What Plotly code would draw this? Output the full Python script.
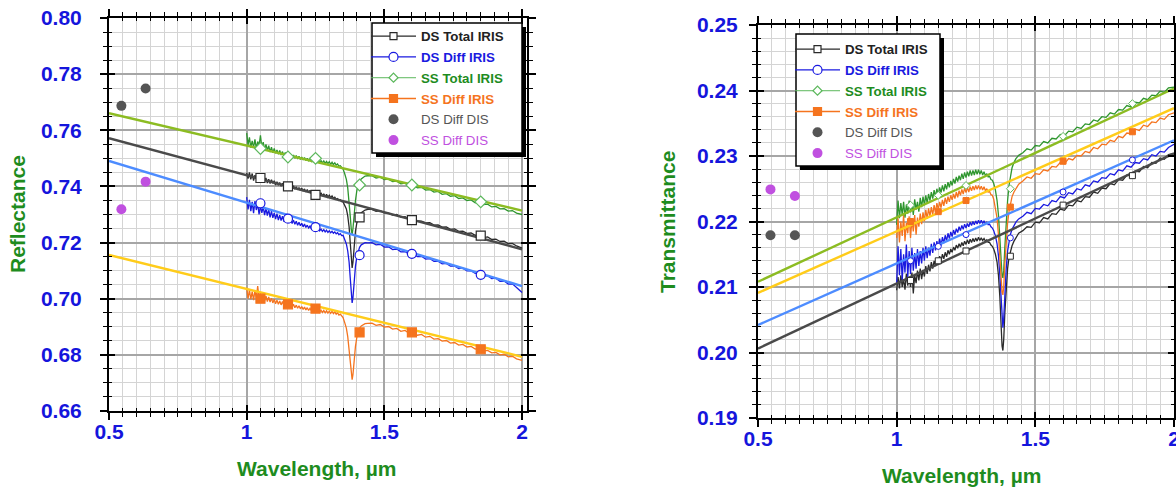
import plotly.graph_objects as go

W, H = 1176, 487

# ---------------- data ----------------
wl = [1.000, 1.005, 1.010, 1.015, 1.020, 1.025, 1.030, 1.035, 1.040, 1.045,
      1.050, 1.055, 1.060, 1.065, 1.070, 1.075, 1.080, 1.085, 1.090, 1.095,
      1.100, 1.105, 1.110, 1.115, 1.120, 1.125, 1.130, 1.135, 1.140, 1.145,
      1.150, 1.155, 1.160, 1.165, 1.170, 1.175, 1.180, 1.185, 1.190, 1.195,
      1.200, 1.205, 1.210, 1.215, 1.220, 1.225, 1.230, 1.235, 1.240, 1.245,
      1.250, 1.255, 1.260, 1.265, 1.270, 1.275, 1.280, 1.285, 1.290, 1.295,
      1.300, 1.305, 1.310, 1.315, 1.320, 1.325, 1.330, 1.335, 1.340, 1.345,
      1.350,
      1.356, 1.362, 1.367, 1.372, 1.376, 1.380, 1.383, 1.386, 1.390, 1.395,
      1.400, 1.405, 1.410, 1.416, 1.423, 1.430, 1.440,
      1.455, 1.470, 1.485, 1.500, 1.515, 1.530, 1.545, 1.560, 1.575, 1.590,
      1.605, 1.620, 1.635, 1.650, 1.665, 1.680, 1.695, 1.710, 1.725, 1.740,
      1.755, 1.770, 1.785, 1.800, 1.815, 1.830, 1.845, 1.860, 1.875, 1.890,
      1.905, 1.920, 1.935, 1.950, 1.965, 1.980, 2.000]

# Reflectance spectra (IRIS)
refl_ds_total = [
    0.7448, 0.7428, 0.7450, 0.7425, 0.7446, 0.7421, 0.7440, 0.7428, 0.7443, 0.7418,
    0.7436, 0.7415, 0.7433, 0.7420, 0.7430, 0.7412, 0.7426, 0.7410, 0.7424, 0.7411,
    0.7420, 0.7405, 0.7417, 0.7404, 0.7414, 0.7401, 0.7411, 0.7400, 0.7408, 0.7398,
    0.7407, 0.7395, 0.7404, 0.7393, 0.7402, 0.7390, 0.7399, 0.7388, 0.7396, 0.7386,
    0.7394, 0.7383, 0.7391, 0.7380, 0.7389, 0.7378, 0.7386, 0.7376, 0.7384, 0.7373,
    0.7381, 0.7371, 0.7379, 0.7369, 0.7377, 0.7366, 0.7374, 0.7364, 0.7372, 0.7362,
    0.7369, 0.7360, 0.7366, 0.7358, 0.7362, 0.7354, 0.7357, 0.7350, 0.7352, 0.7346,
    0.7345,
    0.7335, 0.7320, 0.7295, 0.7255, 0.7200, 0.7140, 0.7110, 0.7130, 0.7190, 0.7240,
    0.7270, 0.7288, 0.7298, 0.7306, 0.7312, 0.7316, 0.7318,
    0.7318, 0.7311, 0.7314, 0.7306, 0.7305, 0.7298, 0.7300, 0.7291, 0.7292, 0.7284,
    0.7285, 0.7277, 0.7276, 0.7270, 0.7271, 0.7262, 0.7263, 0.7255, 0.7256, 0.7247,
    0.7249, 0.7240, 0.7241, 0.7233, 0.7234, 0.7226, 0.7227, 0.7218, 0.7220, 0.7211,
    0.7212, 0.7204, 0.7205, 0.7196, 0.7197, 0.7188, 0.7180]
refl_ds_diff = [
    0.7362, 0.7318, 0.7352, 0.7312, 0.7345, 0.7305, 0.7348, 0.7316, 0.7338, 0.7300,
    0.7332, 0.7306, 0.7328, 0.7298, 0.7322, 0.7296, 0.7318, 0.7290, 0.7312, 0.7288,
    0.7306, 0.7284, 0.7303, 0.7280, 0.7298, 0.7278, 0.7294, 0.7275, 0.7290, 0.7272,
    0.7287, 0.7270, 0.7283, 0.7268, 0.7280, 0.7265, 0.7276, 0.7262, 0.7272, 0.7260,
    0.7269, 0.7256, 0.7266, 0.7254, 0.7262, 0.7252, 0.7259, 0.7249, 0.7256, 0.7247,
    0.7253, 0.7244, 0.7251, 0.7242, 0.7248, 0.7240, 0.7246, 0.7238, 0.7244, 0.7236,
    0.7242, 0.7235, 0.7240, 0.7233, 0.7238, 0.7231, 0.7235, 0.7228, 0.7232, 0.7225,
    0.7226,
    0.7212, 0.7195, 0.7170, 0.7130, 0.7075, 0.7020, 0.6985, 0.7005, 0.7060, 0.7115,
    0.7150, 0.7170, 0.7183, 0.7192, 0.7197, 0.7200, 0.7199,
    0.7200, 0.7192, 0.7194, 0.7184, 0.7185, 0.7175, 0.7177, 0.7167, 0.7168, 0.7158,
    0.7160, 0.7150, 0.7151, 0.7141, 0.7143, 0.7133, 0.7134, 0.7124, 0.7126, 0.7116,
    0.7117, 0.7107, 0.7109, 0.7099, 0.7100, 0.7090, 0.7091, 0.7081, 0.7082, 0.7072,
    0.7073, 0.7062, 0.7063, 0.7052, 0.7053, 0.7040, 0.7022]
refl_ss_total = [
    0.7590, 0.7548, 0.7575, 0.7538, 0.7562, 0.7540, 0.7568, 0.7535, 0.7560, 0.7545,
    0.7582, 0.7540, 0.7558, 0.7530, 0.7550, 0.7528, 0.7545, 0.7522, 0.7540, 0.7520,
    0.7535, 0.7518, 0.7530, 0.7515, 0.7528, 0.7512, 0.7524, 0.7510, 0.7521, 0.7508,
    0.7518, 0.7505, 0.7515, 0.7503, 0.7512, 0.7500, 0.7510, 0.7498, 0.7507, 0.7496,
    0.7505, 0.7494, 0.7503, 0.7492, 0.7500, 0.7490, 0.7498, 0.7489, 0.7497, 0.7487,
    0.7495, 0.7486, 0.7494, 0.7485, 0.7492, 0.7484, 0.7491, 0.7482, 0.7489, 0.7481,
    0.7488, 0.7479, 0.7486, 0.7478, 0.7484, 0.7476, 0.7480, 0.7472, 0.7474, 0.7466,
    0.7462,
    0.7445, 0.7425, 0.7395, 0.7350, 0.7295, 0.7245, 0.7228, 0.7250, 0.7300, 0.7350,
    0.7385, 0.7405, 0.7418, 0.7427, 0.7433, 0.7437, 0.7438,
    0.7438, 0.7430, 0.7433, 0.7424, 0.7426, 0.7417, 0.7419, 0.7409, 0.7412, 0.7402,
    0.7404, 0.7395, 0.7397, 0.7387, 0.7389, 0.7380, 0.7382, 0.7372, 0.7374, 0.7365,
    0.7367, 0.7357, 0.7359, 0.7350, 0.7352, 0.7342, 0.7344, 0.7335, 0.7337, 0.7327,
    0.7329, 0.7320, 0.7321, 0.7312, 0.7314, 0.7305, 0.7300]
refl_ss_diff = [
    0.7040, 0.7000, 0.7032, 0.6998, 0.7025, 0.6995, 0.7030, 0.7002, 0.7045, 0.7000,
    0.7022, 0.6995, 0.7015, 0.6992, 0.7010, 0.6990, 0.7006, 0.6988, 0.7002, 0.6985,
    0.6998, 0.6982, 0.6995, 0.6980, 0.6992, 0.6978, 0.6990, 0.6976, 0.6987, 0.6975,
    0.6984, 0.6972, 0.6982, 0.6970, 0.6980, 0.6968, 0.6977, 0.6966, 0.6975, 0.6964,
    0.6972, 0.6962, 0.6970, 0.6960, 0.6968, 0.6958, 0.6966, 0.6957, 0.6964, 0.6955,
    0.6962, 0.6954, 0.6961, 0.6952, 0.6959, 0.6951, 0.6958, 0.6950, 0.6957, 0.6949,
    0.6956, 0.6948, 0.6955, 0.6947, 0.6953, 0.6945, 0.6950, 0.6942, 0.6945, 0.6937,
    0.6933,
    0.6915, 0.6895, 0.6865, 0.6820, 0.6770, 0.6728, 0.6712, 0.6730, 0.6780, 0.6830,
    0.6862, 0.6882, 0.6895, 0.6903, 0.6908, 0.6911, 0.6912,
    0.6913, 0.6905, 0.6908, 0.6899, 0.6901, 0.6892, 0.6894, 0.6884, 0.6887, 0.6877,
    0.6880, 0.6870, 0.6873, 0.6863, 0.6866, 0.6856, 0.6858, 0.6849, 0.6851, 0.6842,
    0.6844, 0.6835, 0.6837, 0.6828, 0.6830, 0.6821, 0.6823, 0.6814, 0.6816, 0.6807,
    0.6809, 0.6800, 0.6802, 0.6793, 0.6795, 0.6786, 0.6780]

# Transmittance spectra (IRIS)
tran_ds_total = [
    0.2095, 0.2115, 0.2098, 0.2118, 0.2100, 0.2112, 0.2096, 0.2120, 0.2102, 0.2115,
    0.2100, 0.2122, 0.2090, 0.2118, 0.2106, 0.2125, 0.2110, 0.2128, 0.2112, 0.2126,
    0.2116, 0.2132, 0.2120, 0.2134, 0.2124, 0.2138, 0.2128, 0.2140, 0.2132, 0.2144,
    0.2136, 0.2147, 0.2140, 0.2150, 0.2143, 0.2153, 0.2146, 0.2156, 0.2150, 0.2158,
    0.2153, 0.2161, 0.2156, 0.2164, 0.2159, 0.2166, 0.2161, 0.2168, 0.2163, 0.2170,
    0.2165, 0.2172, 0.2166, 0.2173, 0.2168, 0.2174, 0.2169, 0.2175, 0.2170, 0.2176,
    0.2171, 0.2175, 0.2171, 0.2174, 0.2170, 0.2172, 0.2168, 0.2168, 0.2164, 0.2162,
    0.2158,
    0.2150, 0.2138, 0.2118, 0.2085, 0.2045, 0.2010, 0.2003, 0.2020, 0.2060, 0.2100,
    0.2128, 0.2145, 0.2155, 0.2163, 0.2170, 0.2176, 0.2182,
    0.2186, 0.2192, 0.2191, 0.2199, 0.2198, 0.2206, 0.2204, 0.2212, 0.2211, 0.2219,
    0.2217, 0.2225, 0.2224, 0.2232, 0.2230, 0.2238, 0.2237, 0.2245, 0.2243, 0.2251,
    0.2250, 0.2258, 0.2256, 0.2264, 0.2263, 0.2271, 0.2269, 0.2277, 0.2276, 0.2284,
    0.2282, 0.2290, 0.2289, 0.2297, 0.2295, 0.2302, 0.2304]
tran_ds_diff = [
    0.2105, 0.2162, 0.2118, 0.2158, 0.2110, 0.2150, 0.2122, 0.2165, 0.2115, 0.2155,
    0.2120, 0.2160, 0.2125, 0.2152, 0.2128, 0.2158, 0.2132, 0.2155, 0.2136, 0.2160,
    0.2140, 0.2162, 0.2144, 0.2160, 0.2148, 0.2166, 0.2152, 0.2168, 0.2156, 0.2170,
    0.2160, 0.2174, 0.2163, 0.2176, 0.2167, 0.2179, 0.2170, 0.2182, 0.2174, 0.2184,
    0.2177, 0.2187, 0.2180, 0.2189, 0.2183, 0.2192, 0.2186, 0.2194, 0.2188, 0.2196,
    0.2190, 0.2197, 0.2192, 0.2199, 0.2194, 0.2200, 0.2195, 0.2201, 0.2196, 0.2202,
    0.2197, 0.2202, 0.2197, 0.2201, 0.2196, 0.2199, 0.2195, 0.2196, 0.2192, 0.2190,
    0.2186,
    0.2178, 0.2166, 0.2148, 0.2118, 0.2080, 0.2048, 0.2038, 0.2052, 0.2090, 0.2128,
    0.2155, 0.2170, 0.2180, 0.2188, 0.2194, 0.2199, 0.2204,
    0.2208, 0.2214, 0.2212, 0.2220, 0.2219, 0.2226, 0.2224, 0.2232, 0.2230, 0.2238,
    0.2236, 0.2244, 0.2242, 0.2250, 0.2248, 0.2256, 0.2254, 0.2262, 0.2260, 0.2267,
    0.2266, 0.2273, 0.2271, 0.2279, 0.2277, 0.2285, 0.2283, 0.2290, 0.2289, 0.2296,
    0.2294, 0.2302, 0.2300, 0.2307, 0.2306, 0.2313, 0.2318]
tran_ss_total = [
    0.2195, 0.2232, 0.2205, 0.2228, 0.2210, 0.2230, 0.2206, 0.2226, 0.2212, 0.2232,
    0.2214, 0.2228, 0.2210, 0.2234, 0.2218, 0.2230, 0.2215, 0.2236, 0.2222, 0.2238,
    0.2225, 0.2240, 0.2228, 0.2242, 0.2232, 0.2245, 0.2235, 0.2248, 0.2238, 0.2250,
    0.2240, 0.2252, 0.2244, 0.2255, 0.2246, 0.2257, 0.2249, 0.2260, 0.2252, 0.2262,
    0.2255, 0.2265, 0.2258, 0.2268, 0.2261, 0.2270, 0.2263, 0.2273, 0.2265, 0.2275,
    0.2267, 0.2276, 0.2269, 0.2278, 0.2270, 0.2278, 0.2271, 0.2279, 0.2272, 0.2279,
    0.2272, 0.2278, 0.2271, 0.2276, 0.2270, 0.2273, 0.2268, 0.2269, 0.2264, 0.2263,
    0.2258,
    0.2248, 0.2232, 0.2210, 0.2175, 0.2140, 0.2118, 0.2114, 0.2125, 0.2160, 0.2200,
    0.2232, 0.2255, 0.2270, 0.2282, 0.2290, 0.2296, 0.2301,
    0.2305, 0.2311, 0.2309, 0.2316, 0.2315, 0.2322, 0.2320, 0.2327, 0.2326, 0.2333,
    0.2331, 0.2338, 0.2337, 0.2344, 0.2342, 0.2349, 0.2348, 0.2355, 0.2353, 0.2360,
    0.2359, 0.2366, 0.2364, 0.2371, 0.2370, 0.2377, 0.2375, 0.2382, 0.2381, 0.2388,
    0.2386, 0.2393, 0.2392, 0.2399, 0.2397, 0.2404, 0.2405]
tran_ss_diff = [
    0.2175, 0.2205, 0.2168, 0.2200, 0.2178, 0.2210, 0.2170, 0.2198, 0.2182, 0.2208,
    0.2175, 0.2203, 0.2185, 0.2210, 0.2180, 0.2206, 0.2192, 0.2212, 0.2196, 0.2214,
    0.2200, 0.2218, 0.2204, 0.2220, 0.2208, 0.2222, 0.2210, 0.2225, 0.2214, 0.2228,
    0.2218, 0.2230, 0.2221, 0.2233, 0.2224, 0.2236, 0.2227, 0.2238, 0.2230, 0.2240,
    0.2233, 0.2242, 0.2235, 0.2245, 0.2237, 0.2247, 0.2240, 0.2249, 0.2242, 0.2251,
    0.2244, 0.2252, 0.2245, 0.2253, 0.2247, 0.2254, 0.2248, 0.2255, 0.2249, 0.2255,
    0.2249, 0.2254, 0.2248, 0.2253, 0.2247, 0.2250, 0.2245, 0.2246, 0.2241, 0.2240,
    0.2234,
    0.2222, 0.2205, 0.2180, 0.2145, 0.2110, 0.2092, 0.2088, 0.2100, 0.2135, 0.2170,
    0.2198, 0.2215, 0.2228, 0.2238, 0.2245, 0.2251, 0.2257,
    0.2262, 0.2268, 0.2266, 0.2273, 0.2272, 0.2279, 0.2277, 0.2284, 0.2283, 0.2290,
    0.2288, 0.2296, 0.2294, 0.2301, 0.2300, 0.2307, 0.2305, 0.2313, 0.2311, 0.2318,
    0.2317, 0.2324, 0.2322, 0.2330, 0.2328, 0.2335, 0.2334, 0.2341, 0.2339, 0.2347,
    0.2345, 0.2352, 0.2351, 0.2358, 0.2356, 0.2363, 0.2366]

# marker positions on IRIS curves
mk_wl = [1.05, 1.15, 1.25, 1.41, 1.60, 1.85]
refl_mk_ds_total = [0.7430, 0.7400, 0.7370, 0.7290, 0.7280, 0.7225]
refl_mk_ds_diff = [0.7340, 0.7285, 0.7255, 0.7155, 0.7160, 0.7085]
refl_mk_ss_total = [0.7535, 0.7505, 0.7500, 0.7405, 0.7405, 0.7345]
refl_mk_ss_diff = [0.7000, 0.6980, 0.6965, 0.6880, 0.6880, 0.6820]
tran_mk_ds_total = [0.2110, 0.2140, 0.2155, 0.2147, 0.2225, 0.2270]
tran_mk_ds_diff = [0.2140, 0.2162, 0.2180, 0.2175, 0.2245, 0.2294]
tran_mk_ss_total = [0.2225, 0.2240, 0.2255, 0.2250, 0.2330, 0.2380]
tran_mk_ss_diff = [0.2200, 0.2215, 0.2232, 0.2222, 0.2292, 0.2337]

# linear fits (end points)
fit_wl = [0.5, 2.0]
refl_fit_ss_total = [0.7661, 0.7314]
refl_fit_ds_total = [0.7572, 0.7176]
refl_fit_ds_diff = [0.7491, 0.7045]
refl_fit_ss_diff = [0.7156, 0.6793]
tran_fit_ss_total = [0.2108, 0.2403]
tran_fit_ss_diff = [0.2091, 0.2373]
tran_fit_ds_diff = [0.2042, 0.2324]
tran_fit_ds_total = [0.2006, 0.2304]

# DIS points
dis_wl = [0.545, 0.633]
refl_dis_ds = [0.7687, 0.7749]
refl_dis_ss = [0.7319, 0.7417]
tran_dis_ds = [0.2179, 0.2179]
tran_dis_ss = [0.2249, 0.2239]

# ---------------- style ----------------
BLUE = "#1515dc"
GREEN = "#1e8c1e"
FONT = "Liberation Sans"

C_DS_TOT = "#2a2a2a"
C_DS_DIF = "#1a1ae0"
C_SS_TOT = "#2e962e"
C_SS_TOT_LEG = "#5cb85c"
C_SS_DIF = "#f5741e"
C_DIS_DS = "#555555"
C_DIS_SS = "#c050e0"

FIT_SS_TOT = "#8cbc22"
FIT_DS_TOT = "#4a4a4a"
FIT_DS_DIF = "#4d8cff"
FIT_SS_DIF = "#ffcc1a"

fig = go.Figure()


def add_panel(xa, ya, spectra, markers, fits, dis, legend, msize, mlw):
    for y, col in spectra:
        fig.add_trace(go.Scatter(x=wl, y=y, mode="lines", line=dict(color=col, width=1.3),
                                 showlegend=False, hoverinfo="skip", xaxis=xa, yaxis=ya))
    for y, col in fits:
        fig.add_trace(go.Scatter(x=fit_wl, y=y, mode="lines", line=dict(color=col, width=2.4),
                                 showlegend=False, hoverinfo="skip", xaxis=xa, yaxis=ya))
    for y, col, sym, fill in markers:
        fig.add_trace(go.Scatter(x=mk_wl, y=y, mode="markers",
                                 marker=dict(symbol=sym, size=msize, color=fill,
                                             line=dict(color=col, width=mlw)),
                                 showlegend=False, hoverinfo="skip", xaxis=xa, yaxis=ya))
    leg = [
        ("DS Total IRIS", C_DS_TOT, "#222222", "square", "white", 7, C_DS_TOT, 1.3),
        ("DS Diff IRIS", C_DS_DIF, C_DS_DIF, "circle", "white", 9, C_DS_DIF, 1.3),
        ("SS Total IRIS", C_SS_TOT_LEG, GREEN, "diamond", "white", 7, C_SS_TOT_LEG, 1.0),
        ("SS Diff IRIS", C_SS_DIF, C_SS_DIF, "square", C_SS_DIF, 8, C_SS_DIF, 1.3),
    ]
    for i, (name, lc, tc, sym, fill, sz, mc, lw) in enumerate(leg):
        fig.add_trace(go.Scatter(x=[None], y=[None], mode="lines+markers",
                                 name=f"<span style='color:{tc}'><b>{name}</b></span>",
                                 line=dict(color=lc, width=lw),
                                 marker=dict(symbol=sym, size=sz, color=fill, line=dict(color=mc, width=1.2)),
                                 legend=legend, legendgroup=f"{legend}{i}", xaxis=xa, yaxis=ya))
    for j, (y, col, name) in enumerate(dis):
        fig.add_trace(go.Scatter(x=dis_wl, y=y, mode="markers", name=f"<span style='color:{col}'>{name}</span>",
                                 marker=dict(symbol="circle", size=10, color=col),
                                 legend=legend, legendgroup=f"{legend}d{j}", xaxis=xa, yaxis=ya))


add_panel("x", "y",
          [(refl_ds_total, C_DS_TOT), (refl_ds_diff, C_DS_DIF), (refl_ss_total, C_SS_TOT), (refl_ss_diff, C_SS_DIF)],
          [(refl_mk_ds_total, C_DS_TOT, "square", "white"), (refl_mk_ds_diff, C_DS_DIF, "circle", "white"),
           (refl_mk_ss_total, C_SS_TOT_LEG, "diamond", "white"), (refl_mk_ss_diff, C_SS_DIF, "square", C_SS_DIF)],
          [(refl_fit_ss_total, FIT_SS_TOT), (refl_fit_ds_total, FIT_DS_TOT),
           (refl_fit_ds_diff, FIT_DS_DIF), (refl_fit_ss_diff, FIT_SS_DIF)],
          [(refl_dis_ds, C_DIS_DS, "DS Diff DIS"), (refl_dis_ss, C_DIS_SS, "SS Diff DIS")],
          "legend", 9, 1.2)

add_panel("x2", "y2",
          [(tran_ds_total, C_DS_TOT), (tran_ds_diff, C_DS_DIF), (tran_ss_total, C_SS_TOT), (tran_ss_diff, C_SS_DIF)],
          [(tran_mk_ds_total, C_DS_TOT, "square", "white"), (tran_mk_ds_diff, C_DS_DIF, "circle", "white"),
           (tran_mk_ss_total, C_SS_TOT_LEG, "diamond", "white"), (tran_mk_ss_diff, C_SS_DIF, "square", C_SS_DIF)],
          [(tran_fit_ss_total, FIT_SS_TOT), (tran_fit_ss_diff, FIT_SS_DIF),
           (tran_fit_ds_diff, FIT_DS_DIF), (tran_fit_ds_total, FIT_DS_TOT)],
          [(tran_dis_ds, C_DIS_DS, "DS Diff DIS"), (tran_dis_ss, C_DIS_SS, "SS Diff DIS")],
          "legend2", 6, 1.0)

for xa, ya in (("x3", "y3"), ("x4", "y4")):
    fig.add_trace(go.Scatter(x=[None], y=[None], mode="markers", showlegend=False,
                             hoverinfo="skip", xaxis=xa, yaxis=ya))

TICKFONT = dict(family=FONT, size=21, color=BLUE, weight="bold")


def main_axis(domain, rng, dtick, tick0, mdtick, anchor, fmt="", standoff=0):
    return dict(domain=domain, range=rng, anchor=anchor, tick0=tick0, dtick=dtick,
                showline=True, linecolor="black", linewidth=2, mirror="allticks",
                ticks="outside", ticklen=7, tickwidth=1.5, tickcolor="black",
                showgrid=True, gridcolor="#a6a6a6", gridwidth=1.5, zeroline=False,
                tickfont=TICKFONT, tickformat=fmt, ticklabelstandoff=standoff,
                ticklabeloverflow="allow", automargin=False,
                minor=dict(dtick=mdtick, tick0=tick0, ticks="outside", ticklen=4, tickwidth=1.2,
                           tickcolor="black", showgrid=True, gridcolor="#d4d4d4", gridwidth=1.3))


def over_axis(over, rng, dtick, tick0, mdtick, anchor):
    return dict(overlaying=over, range=rng, anchor=anchor, tick0=tick0, dtick=dtick,
                showline=False, mirror="allticks", ticks="inside", ticklen=6, tickwidth=1.5,
                tickcolor="black", showgrid=False, zeroline=False, showticklabels=False,
                automargin=False,
                minor=dict(dtick=mdtick, tick0=tick0, ticks="inside", ticklen=3, tickwidth=1.2,
                           tickcolor="black", showgrid=False))


LX = [109 / W, 527 / W]
LY = [1 - 411 / H, 1 - 18 / H]
RX = [758 / W, 1174 / W]
RY = [1 - 418 / H, 1 - 25 / H]
LXR = [0.5, 2.018]
LYR = [0.66, 0.80]
RXR = [0.5, 2.0]
RYR = [0.19, 0.25]

fig.update_layout(
    width=W, height=H, autosize=False,
    margin=dict(l=0, r=0, t=0, b=0, pad=0, autoexpand=False),
    paper_bgcolor="white", plot_bgcolor="white",
    font=dict(family=FONT),
    xaxis=main_axis(LX, LXR, 0.5, 0.5, 0.05, "y", standoff=-6),
    yaxis=main_axis(LY, LYR, 0.02, 0.66, 0.005, "x", fmt=".2f", standoff=14),
    xaxis2=main_axis(RX, RXR, 0.5, 0.5, 0.05, "y2", standoff=-6),
    yaxis2=main_axis(RY, RYR, 0.01, 0.19, 0.002, "x2", fmt=".2f", standoff=7),
    xaxis3=over_axis("x", LXR, 0.5, 0.5, 0.05, "y"),
    yaxis3=over_axis("y", LYR, 0.02, 0.66, 0.005, "x"),
    xaxis4=over_axis("x2", RXR, 0.5, 0.5, 0.05, "y2"),
    yaxis4=over_axis("y2", RYR, 0.01, 0.19, 0.002, "x2"),
    legend=dict(x=366 / W, y=1 - 21 / H, xanchor="left", yanchor="top",
                bgcolor="rgba(0,0,0,0)", borderwidth=0, font=dict(family=FONT, size=13.3),
                itemwidth=45, tracegroupgap=0.5, traceorder="grouped"),
    legend2=dict(x=790 / W, y=1 - 34 / H, xanchor="left", yanchor="top",
                 bgcolor="rgba(0,0,0,0)", borderwidth=0, font=dict(family=FONT, size=13.3),
                 itemwidth=45, tracegroupgap=0.5, traceorder="grouped"),
    showlegend=True,
)

for (x0, y0, x1, y1) in ((372, 23, 522, 153), (796, 34, 940, 166)):
    fig.add_shape(type="rect", xref="paper", yref="paper", layer="above",
                  x0=(x0 + 4) / W, x1=(x1 + 4) / W, y0=1 - (y1 + 4) / H, y1=1 - (y0 + 4) / H,
                  fillcolor="black", line=dict(width=0))
    fig.add_shape(type="rect", xref="paper", yref="paper", layer="above",
                  x0=x0 / W, x1=x1 / W, y0=1 - y1 / H, y1=1 - y0 / H,
                  fillcolor="white", line=dict(color="black", width=1.5))

TITLEFONT = dict(family=FONT, size=21, color=GREEN, weight="bold")
fig.add_annotation(text="Reflectance", x=18 / W, y=1 - 214 / H, xref="paper", yref="paper",
                   textangle=-90, showarrow=False, font=TITLEFONT, xanchor="center", yanchor="middle")
fig.add_annotation(text="Wavelength, µm", x=317 / W, y=1 - 468 / H, xref="paper", yref="paper",
                   showarrow=False, font=TITLEFONT, xanchor="center", yanchor="middle")
fig.add_annotation(text="Transmittance", x=667 / W, y=1 - 222 / H, xref="paper", yref="paper",
                   textangle=-90, showarrow=False, font=TITLEFONT, xanchor="center", yanchor="middle")
fig.add_annotation(text="Wavelength, µm", x=962 / W, y=1 - 475 / H, xref="paper", yref="paper",
                   showarrow=False, font=TITLEFONT, xanchor="center", yanchor="middle")

fig.write_html("out.html", config={"displayModeBar": False},
               post_script="document.body.style.margin='0px';")
